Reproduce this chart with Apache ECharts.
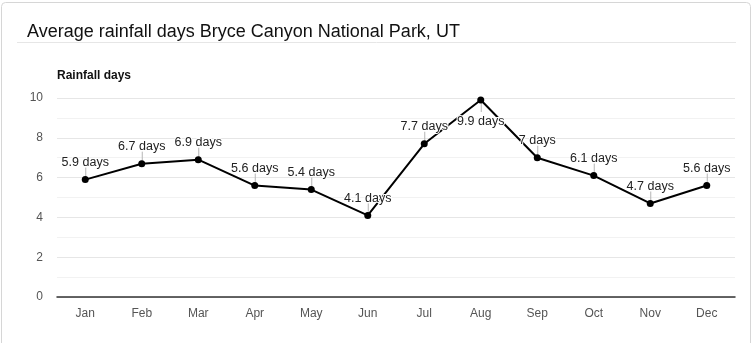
<!DOCTYPE html>
<html><head><meta charset="utf-8">
<script src="https://cdn.jsdelivr.net/npm/echarts@6/dist/echarts.min.js"></script>
<style>html,body{margin:0;padding:0;background:#fff}#c{width:753px;height:343px}</style>
</head><body><div id="c"></div>
<script>
const months = ['Jan','Feb','Mar','Apr','May','Jun','Jul','Aug','Sep','Oct','Nov','Dec'];
const rainDays = [5.9, 6.7, 6.9, 5.6, 5.4, 4.1, 7.7, 9.9, 7.0, 6.1, 4.7, 5.6];
const yTicks = [0, 2, 4, 6, 8, 10];
const labelSide = ['top','top','top','top','top','top','top','bottom','top','top','top','top'];

const FONT = '"Liberation Sans", Arial, Helvetica, sans-serif';
const chart = echarts.init(document.getElementById('c'), null, {renderer: 'canvas'});
const TICK = 12;

chart.setOption({
  animation: false,
  textStyle: {fontFamily: FONT},
  graphic: [
    {type: 'rect', shape: {x: 1.5, y: 2.5, width: 749, height: 360, r: 4}, style: {fill: 'none', stroke: '#d6d6d6', lineWidth: 1}, z: -10},
    {type: 'line', shape: {x1: 17, y1: 42.5, x2: 736, y2: 42.5}, style: {stroke: '#e6e6e6', lineWidth: 1}},
    {type: 'text', left: 27, top: 23, style: {text: 'Average rainfall days Bryce Canyon National Park, UT', font: '18px ' + FONT, fill: '#111'}}
  ],
  grid: {left: 57, right: 18, top: 98, bottom: 46, containLabel: false},
  xAxis: {
    type: 'category', data: months, boundaryGap: true,
    axisLine: {show: true, lineStyle: {color: '#333', width: 1.5}},
    axisTick: {show: false},
    axisLabel: {color: '#555', fontSize: 12, margin: 11, fontFamily: FONT}
  },
  yAxis: {
    type: 'value', min: yTicks[0], max: yTicks[yTicks.length - 1], interval: 2,
    name: 'Rainfall days', nameLocation: 'end', nameGap: 16,
    nameTextStyle: {align: 'left', fontWeight: 'bold', fontSize: 12, color: '#111', fontFamily: FONT},
    axisLine: {show: false}, axisTick: {show: false},
    axisLabel: {color: '#555', fontSize: 12, margin: 14, fontFamily: FONT},
    splitLine: {lineStyle: {color: '#e6e6e6', width: 1}},
    minorTick: {show: false, splitNumber: 2},
    minorSplitLine: {show: true, lineStyle: {color: '#f2f2f2', width: 1}}
  },
  series: [
    {
      type: 'custom',
      data: rainDays.map((v, i) => [i, v]),
      renderItem: function (params, api) {
        const i = api.value(0);
        const p = api.coord([i, api.value(1)]);
        const dir = labelSide[i] === 'bottom' ? 1 : -1;
        return {type: 'line', shape: {x1: p[0] + 0.5, y1: p[1], x2: p[0] + 0.5, y2: p[1] + dir * TICK}, style: {stroke: '#b5b5b5', lineWidth: 1}};
      },
      z: 1, silent: true
    },
    {
      type: 'line', data: rainDays.map((v, i) => ({
        value: v,
        label: labelSide[i] === 'bottom' ? {position: 'bottom', distance: 12, offset: [-3, 0]} : {position: 'top', distance: 7}
      })),
      lineStyle: {color: '#000', width: 2},
      itemStyle: {color: '#000'},
      symbol: 'circle', symbolSize: 7,
      label: {
        show: true, color: '#222', fontSize: 12.5, fontFamily: FONT,
        textBorderColor: '#fff', textBorderWidth: 2,
        formatter: p => p.value + ' days'
      },
      labelLayout: {hideOverlap: false},
      z: 3
    }
  ]
});
</script></body></html>
